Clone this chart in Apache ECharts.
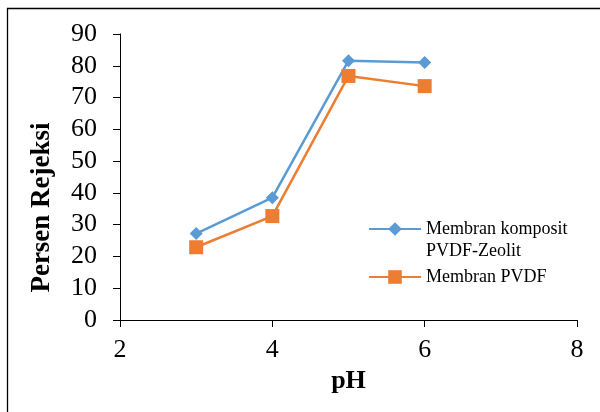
<!DOCTYPE html>
<html>
<head>
<meta charset="utf-8">
<script src="https://cdn.jsdelivr.net/npm/echarts@6/dist/echarts.min.js"></script>
<style>
  html, body { margin: 0; padding: 0; background: #ffffff; }
  #chart { width: 600px; height: 412px; }
</style>
</head>
<body>
<div id="chart"></div>
<script>
var phValues = [3, 4, 5, 6];
var komposit = [27.2, 38.5, 81.6, 81.0];
var pvdf = [22.9, 32.7, 76.8, 73.6];
var seriesNames = ['Membran komposit\nPVDF-Zeolit', 'Membran PVDF'];

function pairs(xs, ys) {
  var out = [];
  for (var i = 0; i < xs.length; i++) {
    out.push([xs[i], ys[i]]);
  }
  return out;
}

var font = 'Liberation Serif';
var chart = echarts.init(document.getElementById('chart'));
chart.setOption({
  animation: false,
  backgroundColor: '#ffffff',
  graphic: [{
    type: 'rect',
    shape: { x: 7.5, y: 8.5, width: 620, height: 420 },
    style: { fill: null, stroke: '#000', lineWidth: 1.3 }
  }],
  grid: { left: 120, right: 23, top: 34, bottom: 92 },
  legend: [{
    orient: 'vertical',
    left: 368,
    top: 196,
    padding: 0,
    itemWidth: 52,
    itemHeight: 17,
    // blank first line so the icon sits next to the first text line
    formatter: function(name) { return ' \n' + name; },
    textStyle: { fontFamily: font, fontSize: 18, color: '#000', lineHeight: 22 },
    data: [seriesNames[0]]
  }, {
    orient: 'vertical',
    left: 368,
    top: 266,
    padding: 0,
    itemWidth: 52,
    itemHeight: 17,
    textStyle: { fontFamily: font, fontSize: 18, color: '#000', lineHeight: 22 },
    data: [seriesNames[1]]
  }],
  xAxis: {
    type: 'value',
    min: 2,
    max: 8,
    interval: 2,
    name: 'pH',
    nameLocation: 'middle',
    nameGap: 48,
    nameTextStyle: { fontFamily: font, fontSize: 26, fontWeight: 'bold', color: '#000' },
    axisLine: { lineStyle: { color: '#000', width: 1 } },
    axisTick: { show: true, length: 7, lineStyle: { color: '#000' } },
    axisLabel: { fontFamily: font, fontSize: 26, color: '#000', margin: 17 },
    splitLine: { show: false }
  },
  yAxis: {
    type: 'value',
    min: 0,
    max: 90,
    interval: 10,
    name: 'Persen Rejeksi',
    nameLocation: 'middle',
    nameGap: 64,
    nameTextStyle: { fontFamily: font, fontSize: 27, fontWeight: 'bold', color: '#000', padding: [0, 61, 0, 0] },
    axisLine: { show: true, lineStyle: { color: '#000', width: 1 } },
    axisTick: { show: true, length: 7, lineStyle: { color: '#000' } },
    axisLabel: { fontFamily: font, fontSize: 26, color: '#000', margin: 23 },
    splitLine: { show: false }
  },
  series: [{
    name: seriesNames[0],
    type: 'line',
    data: pairs(phValues, komposit),
    symbol: 'diamond',
    symbolSize: 13,
    itemStyle: { color: '#5B9BD5' },
    lineStyle: { color: '#5B9BD5', width: 2.5 }
  }, {
    name: seriesNames[1],
    type: 'line',
    data: pairs(phValues, pvdf),
    symbol: 'rect',
    symbolSize: 14,
    itemStyle: { color: '#ED7D31' },
    lineStyle: { color: '#ED7D31', width: 2.5 }
  }]
});
</script>
</body>
</html>
